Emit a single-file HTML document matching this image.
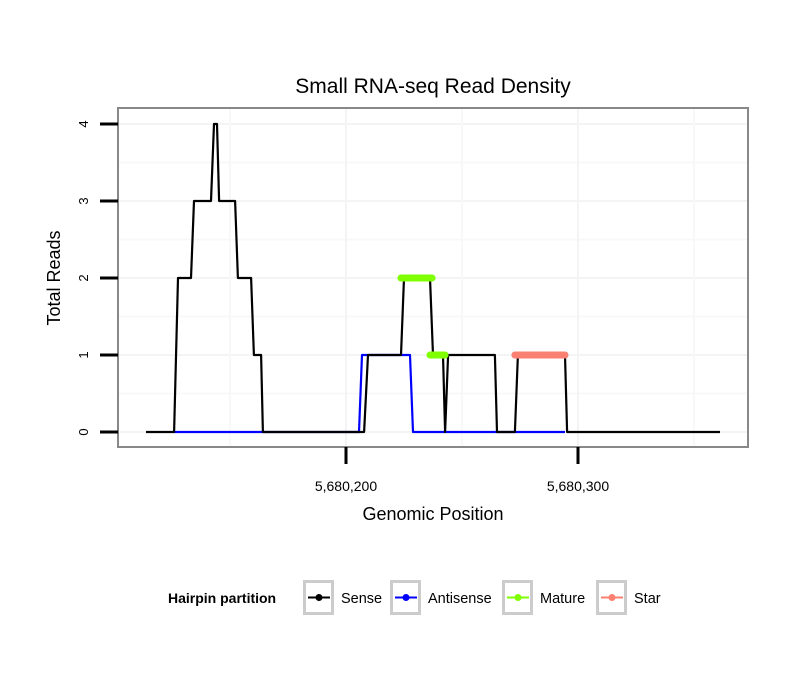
<!DOCTYPE html>
<html><head><meta charset="utf-8"><style>
body{margin:0;background:#fff;font-family:"Liberation Sans",sans-serif}
svg text{font-family:"Liberation Sans",sans-serif}
</style></head><body>
<svg id="chart" width="810" height="690" viewBox="0 0 810 690">
<text x="433" y="93" font-size="21" text-anchor="middle">Small RNA-seq Read Density</text>
<g id="grid"></g>
<g id="series"></g>
<rect x="118" y="108" width="630" height="339" fill="none" stroke="#888" stroke-width="2"/>
<g id="axes"></g>
<text x="433" y="520" font-size="18" text-anchor="middle">Genomic Position</text>
<text transform="translate(60,278) rotate(-90)" font-size="18" text-anchor="middle">Total Reads</text>
<g id="legend">
<text x="168" y="603" font-size="14" font-weight="bold">Hairpin partition</text>
</g>
</svg>
<script>
const xTicks=[5680200,5680300];
const xTickLabels=["5,680,200","5,680,300"];
const yTicks=[0,1,2,3,4];
const senseX=[5680113.8,5680125.9,5680127.6,5680133.2,5680134.5,5680141.8,5680143.1,5680144.4,5680145.3,5680152.2,5680153.4,5680159.1,5680160.3,5680163.4,5680164.2,5680207.8,5680209.5,5680223.7,5680225,5680236.2,5680237.5,5680241.8,5680242.7,5680244,5680264.2,5680265.1,5680272.8,5680274.1,5680294.4,5680295.3,5680361.2];
const senseY=[0,0,2,2,3,3,4,4,3,3,2,2,1,1,0,0,1,1,2,2,1,1,0,1,1,0,0,1,1,0,0];
const antiX=[5680125.9,5680205.6,5680206.9,5680227.6,5680228.9,5680294.4];
const antiY=[0,0,1,1,0,0];
const matureX=[[5680223.7,5680237.1],[5680236.2,5680242.7]];
const matureY=[2,1];
const starX=[[5680272.8,5680294.4]];
const starY=[1];
const NS="http://www.w3.org/2000/svg";
const sx=v=>346+(v-5680200)*2.32;
const sy=v=>432-v*77;
function mk(tag,attrs,parent){const e=document.createElementNS(NS,tag);for(const k in attrs)e.setAttribute(k,attrs[k]);parent.appendChild(e);return e;}
const grid=document.getElementById('grid'),series=document.getElementById('series'),axes=document.getElementById('axes'),legend=document.getElementById('legend');
for(let i=0;i<yTicks.length;i++){
 const l=mk('line',{x1:118,x2:748,y1:sy(yTicks[i]),y2:sy(yTicks[i]),stroke:'#f4f4f4','stroke-width':2},grid);
 
 
 if(i<yTicks.length-1){const m=mk('line',{x1:118,x2:748,y1:sy(yTicks[i]+0.5),y2:sy(yTicks[i]+0.5),stroke:'#f8f8f8','stroke-width':2},grid);
 
 }
}
[5680150,5680200,5680250,5680300,5680350].forEach(v=>{
 const l=mk('line',{x1:sx(v),x2:sx(v),y1:108,y2:447,stroke:xTicks.includes(v)?'#f4f4f4':'#f8f8f8','stroke-width':2},grid);
 
 
});
function path(xs,ys,color,name){
 let d='';xs.forEach((x,i)=>{d+=(i?'L':'M')+sx(x).toFixed(1)+','+sy(ys[i]).toFixed(1);});
 const p=mk('path',{d:d,fill:'none',stroke:color,'stroke-width':2.2,'stroke-linejoin':'round'},series);
 
 
}
path(antiX,antiY,'#0000ff','antisense-line');
path(senseX,senseY,'#000','sense-line');
function segs(xs,ys,color,name){
 xs.forEach((r,i)=>{const l=mk('line',{x1:sx(r[0]),x2:sx(r[1]),y1:sy(ys[i]),y2:sy(ys[i]),stroke:color,'stroke-width':7,'stroke-linecap':'round'},series);
 
 });
}
segs(matureX,matureY,'#7fff00','mature-segment');
segs(starX,starY,'#fa8072','star-segment');
yTicks.forEach(v=>{
 const t=mk('line',{x1:100,x2:118,y1:sy(v),y2:sy(v),stroke:'#000','stroke-width':3},axes);
 
 
 const tx=mk('text',{transform:`translate(88,${sy(v)}) rotate(-90)`,'font-size':13,'text-anchor':'middle'},axes);
 tx.textContent=v;
 
 
});
xTicks.forEach((v,i)=>{
 const t=mk('line',{x1:sx(v),x2:sx(v),y1:447,y2:464,stroke:'#000','stroke-width':3},axes);
 
 
 const tx=mk('text',{x:sx(v),y:491,'font-size':14,'text-anchor':'middle'},axes);
 tx.textContent=xTickLabels[i];
 
 
});
const items=[["Sense","#000",303,341],["Antisense","#0000ff",390,428],["Mature","#7fff00",502,540],["Star","#fa8072",596,634]];
items.forEach(it=>{
 const g=mk('g',{},legend);
 
 
 mk('rect',{x:it[2]+1.5,y:581.5,width:28,height:32,fill:'#fff',stroke:'#ccc','stroke-width':3},g);
 mk('line',{x1:it[2]+5,x2:it[2]+27,y1:597.5,y2:597.5,stroke:it[1],'stroke-width':2},g);
 mk('circle',{cx:it[2]+16,cy:597.5,r:3.5,fill:it[1]},g);
 const tx=mk('text',{x:it[3],y:603,'font-size':14.5},g);tx.textContent=it[0];
});
</script>
</body></html>
